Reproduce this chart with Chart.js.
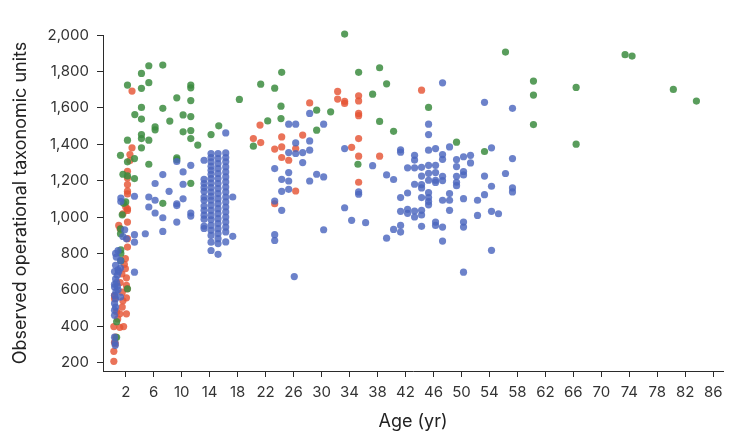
<!DOCTYPE html>
<html>
<head>
<meta charset="utf-8">
<script src="https://cdn.jsdelivr.net/npm/chart.js@4.4.1/dist/chart.umd.min.js"></script>
<style>
  html, body { margin: 0; padding: 0; background: #fff; }
  #wrap { width: 743px; height: 435px; position: relative; }
</style>
</head>
<body>
<div id="wrap"><canvas id="otu-chart"></canvas></div>
<script>
// Tick labels
const xTicks = [2, 6, 10, 14, 18, 22, 26, 30, 34, 38, 42, 46, 50, 54, 58, 62, 66, 70, 74, 78, 82, 86];
const yTicks = [200, 400, 600, 800, 1000, 1200, 1400, 1600, 1800, 2000];

// Cohort 1 (blue): age in years, observed OTUs
const blueAge = [
    0.4, 0.45, 0.5, 0.4, 0.4, 0.55, 0.4, 0.55, 0.4, 0.8, 0.4, 0.55, 0.8, 0.4, 0.9, 0.55, 1.25, 0.65, 0.55, 0.9, 1.25, 0.9, 1.25, 0.4, 1.6, 2.1, 1.85, 0.7, 1.0, 0.6,
    1.3, 1.3, 3.25, 3.25, 3.25, 3.25, 4.8, 5.3, 5.3, 6.2, 6.2, 6.2, 7.3, 7.3, 7.3, 8.2, 9.3, 9.3, 9.3, 9.3, 10.2, 10.2, 10.2, 11.3, 11.3, 11.3, 16.3, 17.3, 17.3,
    13.2, 13.2, 13.2, 13.2, 13.2, 13.2, 13.2, 13.2, 13.2, 13.2, 13.2, 13.2, 13.2,
    14.2, 14.2, 14.2, 14.2, 14.2, 14.2, 14.2, 14.2, 14.2, 14.2, 14.2, 14.2, 14.2, 14.2, 14.2, 14.2, 14.2, 14.2, 14.2, 14.2, 14.2,
    15.2, 15.2, 15.2, 15.2, 15.2, 15.2, 15.2, 15.2, 15.2, 15.2, 15.2, 15.2, 15.2, 15.2, 15.2, 15.2, 15.2, 15.2, 15.2, 15.2,
    16.3, 16.3, 16.3, 16.3, 16.3, 16.3, 16.3, 16.3, 16.3, 16.3, 16.3, 16.3, 16.3, 16.3, 16.3, 16.3, 16.3, 16.3,
    28.3, 30.3, 25.3, 26.3, 28.3, 26.3, 27.3, 26.3, 25.3, 28.3, 27.3, 23.3, 24.3, 25.3, 25.3, 25.3, 24.3, 29.3, 30.3, 28.3, 33.3, 23.3, 24.3, 23.3, 23.3, 30.3, 33.3, 34.3, 26.1,
    37.3, 36.3, 35.3, 35.3, 39.3, 40.3, 39.3, 40.3, 41.3, 41.3, 41.3, 41.3, 42.3, 41.3, 41.3, 42.3, 42.3, 43.3, 43.3, 44.3, 44.3, 44.3, 43.3, 43.3, 42.3, 43.3, 44.3, 44.3, 43.3, 44.3, 44.3, 44.3,
    45.3, 45.3, 45.3, 45.3, 45.3, 45.3, 45.3, 45.3, 46.3, 45.3, 45.3, 47.3, 46.3, 46.3, 46.3, 46.3, 47.3, 47.3, 47.3, 47.3, 48.3, 47.3, 48.3, 48.3, 48.3, 46.3, 46.3, 47.3, 47.3,
    49.3, 49.3, 49.3, 49.3, 49.3, 50.3, 50.3, 50.3, 51.3, 51.3, 50.3, 50.3, 50.3, 50.3, 52.3, 53.3, 52.3, 54.3, 55.3, 54.3, 53.3, 54.3, 56.3, 57.3, 57.3, 57.3, 53.3, 57.3, 54.3
];
const blueOtu = [
    340, 310, 295, 460, 488, 505, 525, 551, 615, 620, 630, 660, 680, 700, 710, 735, 760, 780, 800, 815, 720, 600, 560, 570, 893, 880, 930, 640, 700, 590,
    1104, 1085, 1114, 903, 862, 697, 908, 1110, 1055, 1184, 1092, 1022, 1233, 996, 921, 1141, 1305, 1073, 972, 1063, 1248, 1180, 1100, 1284, 1022, 1005, 1462, 1110, 894,
    1312, 1207, 1184, 1162, 1141, 1110, 1092, 1060, 1037, 1010, 988, 950, 937,
    1349, 1327, 1303, 1279, 1257, 1235, 1211, 1187, 1162, 1137, 1114, 1092, 1064, 1037, 1009, 985, 954, 927, 899, 862, 816,
    1349, 1321, 1294, 1266, 1239, 1211, 1184, 1156, 1129, 1101, 1074, 1046, 1019, 991, 964, 936, 909, 881, 854, 795,
    1352, 1327, 1303, 1275, 1248, 1220, 1193, 1165, 1138, 1110, 1083, 1055, 1028, 1000, 973, 945, 918, 863,
    1569, 1510, 1510, 1510, 1418, 1407, 1354, 1349, 1354, 1367, 1299, 1266, 1207, 1244, 1198, 1152, 1141, 1235, 1220, 1198, 1376, 1088, 1037, 903, 871, 930, 1051, 982, 673,
    1282, 969, 1138, 1125, 1231, 1206, 884, 932, 954, 917, 1369, 1356, 1132, 1107, 1031, 1042, 1020, 1033, 1000, 1037, 1011, 949, 1339, 1313, 1270, 1270, 1273, 1225, 1180, 1178, 1160, 1107,
    1134, 1107, 1085, 1067, 1202, 1240, 1284, 1367, 1376, 1453, 1510, 1737, 1284, 1244, 1202, 1190, 1343, 1317, 1224, 1200, 1385, 1092, 1129, 1092, 1037, 972, 954, 945, 868,
    1316, 1277, 1224, 1191, 1172, 1331, 1250, 1231, 1339, 1297, 1101, 972, 945, 697, 1092, 1123, 1009, 1031, 1018, 1169, 1225, 1380, 1239, 1321, 1160, 1138, 1630, 1597, 817
];

// Cohort 2 (red)
const redAge = [
    0.3, 0.3, 0.4, 0.55, 0.3, 1.15, 1.7, 2.1, 1.15, 1.5, 0.4, 2.1, 1.5, 2.1, 2.2, 2.1, 1.95, 1.45, 1.95, 2.25, 2.25, 1.0, 1.2, 2.25, 1.6, 2.25, 0.4, 0.85, 0.5, 1.6, 1.2, 0.7, 1.8,
    2.9, 2.6, 2.6, 2.25, 2.25, 2.25, 2.25, 2.25, 2.0, 2.25, 2.9,
    28.3, 32.3, 33.3, 21.2, 20.25, 21.3, 24.3, 23.3, 24.3, 24.3, 26.3, 27.3, 25.3, 26.3, 23.3, 34.3, 35.3, 35.3, 32.3, 33.3, 35.3, 35.3, 35.3, 35.3, 35.3, 38.3, 44.3
];
const redOtu = [
    207, 262, 312, 340, 398, 394, 398, 468, 468, 505, 551, 556, 587, 624, 605, 666, 716, 687, 771, 835, 881, 954, 935, 972, 1018, 1036, 568, 440, 304, 540, 640, 480, 740,
    1380, 1343, 1310, 1251, 1215, 1178, 1142, 1127, 1055, 1045, 1692,
    1627, 1690, 1624, 1505, 1431, 1409, 1440, 1373, 1385, 1327, 1376, 1450, 1312, 1143, 1073, 1383, 1334, 1191, 1648, 1636, 1666, 1638, 1569, 1557, 1431, 1334, 1697
];

// Cohort 3 (green)
const greenAge = [
    0.7, 0.7, 2.25, 1.3, 1.3, 1.3, 1.25, 1.25, 1.5, 1.7,
    2.25, 4.25, 5.3, 7.3, 5.3, 4.25, 11.3, 11.3, 9.3, 11.3, 18.25, 4.25, 7.3, 3.3, 4.25, 8.3, 10.2, 11.3, 6.2, 6.2, 10.2, 11.3, 15.3, 14.2,
    2.25, 4.25, 4.25, 5.3, 4.25, 11.3, 12.3, 1.25, 3.25, 2.25, 5.3, 9.3, 9.3, 1.6, 2.25, 3.25, 11.3, 7.3, 2.0,
    24.3, 21.3, 23.3, 24.2, 24.2, 22.3, 20.25, 29.3, 31.3, 29.3, 35.2,
    33.3, 35.3, 38.3, 39.3, 37.3, 38.3, 40.3, 45.3, 49.3, 53.3, 56.3, 60.3, 60.3, 60.3, 66.4, 66.4, 73.4, 74.4, 80.3, 83.6
];
const greenOtu = [
    339, 425, 606, 760, 800, 820, 908, 935, 1012, 1075,
    1725, 1789, 1831, 1835, 1738, 1707, 1725, 1710, 1655, 1640, 1646, 1602, 1597, 1563, 1538, 1527, 1561, 1552, 1495, 1479, 1468, 1475, 1501, 1453,
    1422, 1453, 1431, 1422, 1380, 1431, 1395, 1339, 1321, 1303, 1290, 1325, 1315, 1235, 1226, 1211, 1185, 1075, 1083,
    1795, 1730, 1708, 1609, 1541, 1528, 1389, 1587, 1578, 1477, 1290,
    2005, 1795, 1820, 1732, 1675, 1525, 1471, 1602, 1411, 1360, 1906, 1747, 1670, 1508, 1712, 1400, 1892, 1884, 1701, 1637
];

function toPoints(ages, otus) {
    return ages.map((a, i) => ({ x: a, y: otus[i] }));
}

const fontFamily = "Inter, 'Noto Sans', sans-serif";
const axisColor = "#2b2b2b";

const canvas = document.getElementById("otu-chart");
canvas.width = 743;
canvas.height = 435;

new Chart(canvas.getContext("2d"), {
    type: "scatter",
    data: {
        datasets: [
            {
                label: "Cohort 1",
                data: toPoints(blueAge, blueOtu),
                backgroundColor: "rgba(76, 102, 190, 0.82)",
                clip: false,
            },
            {
                label: "Cohort 3",
                data: toPoints(greenAge, greenOtu),
                backgroundColor: "rgba(60, 140, 64, 0.85)",
                clip: false,
            },
            {
                label: "Cohort 2",
                data: toPoints(redAge, redOtu),
                backgroundColor: "rgba(229, 84, 52, 0.82)",
                clip: false,
            },
        ],
    },
    options: {
        responsive: false,
        animation: false,
        events: [],
        elements: {
            point: { radius: 3.6, borderWidth: 0, hoverRadius: 3.6 },
        },
        layout: {
            padding: { left: 0, top: 35, right: 20, bottom: 0 },
        },
        plugins: {
            legend: { display: false },
            tooltip: { enabled: false },
        },
        scales: {
            x: {
                type: "linear",
                min: -1.25,
                max: 87.4,
                afterBuildTicks: (scale) => {
                    scale.ticks = xTicks.map((v) => ({ value: v }));
                },
                afterFit: (scale) => {
                    scale.height = 64;
                },
                grid: {
                    drawOnChartArea: false,
                    drawTicks: true,
                    tickLength: 6,
                    color: axisColor,
                },
                border: { display: true, color: axisColor, width: 1 },
                ticks: {
                    autoSkip: false,
                    maxRotation: 0,
                    padding: 6,
                    color: "#333",
                    font: { family: fontFamily, size: 15 },
                },
                title: {
                    display: true,
                    text: "Age (yr)",
                    color: "#222",
                    font: { family: fontFamily, size: 18 },
                    padding: { top: 0, bottom: 3 },
                },
            },
            y: {
                type: "linear",
                min: 154,
                max: 2000,
                afterBuildTicks: (scale) => {
                    scale.ticks = yTicks.map((v) => ({ value: v }));
                },
                afterFit: (scale) => {
                    scale.width = 103;
                },
                grid: {
                    drawOnChartArea: false,
                    drawTicks: true,
                    tickLength: 6,
                    color: axisColor,
                },
                border: { display: true, color: axisColor, width: 1 },
                ticks: {
                    padding: 8,
                    color: "#333",
                    font: { family: fontFamily, size: 15 },
                    callback: (v) => v.toLocaleString("en-US"),
                },
                title: {
                    display: true,
                    text: "Observed operational taxonomic units",
                    color: "#222",
                    font: { family: fontFamily, size: 18 },
                    padding: { top: 10, bottom: 0 },
                },
            },
        },
    },
});
</script>
</body>
</html>
